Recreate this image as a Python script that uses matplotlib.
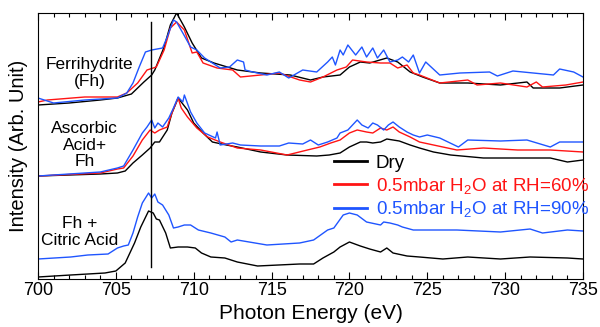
import matplotlib
matplotlib.use("Agg")
import matplotlib.pyplot as plt

plt.rcParams['font.family'] = ['Liberation Sans', 'DejaVu Sans']
plt.rcParams['mathtext.fontset'] = 'custom'
plt.rcParams['mathtext.rm'] = 'Liberation Sans'
plt.rcParams['mathtext.it'] = 'Liberation Sans'

# Stacked Fe L-edge spectra, offsets already included in the intensities
# --- Ferrihydrite (top) ---
fh_dry_e = [700.0, 702.0, 704.0, 705.1, 706.0, 706.8, 707.3, 707.5, 708.1, 708.5, 708.9, 709.4,
            709.9, 710.5, 711.3, 712.8, 714.3, 716.2, 717.5, 718.3, 719.4, 720.0, 720.7, 721.3,
            722.4, 723.1, 723.9, 724.7, 725.8, 727.6, 729.7, 731.4, 731.8, 733.5, 735.0]
fh_dry_i = [174, 176, 179, 181, 185, 197, 204, 209, 232, 254, 266, 252,
            236, 221, 216, 209, 206, 204, 199, 202, 204, 212, 217, 216,
            221, 217, 207, 202, 196, 196, 194, 197, 191, 191, 194]

fh_rh60_e = [700.0, 700.6, 703.0, 705.1, 705.7, 706.4, 707.0, 707.6, 708.1, 708.5, 708.9, 709.4,
             709.9, 710.2, 710.6, 711.5, 712.5, 713.0, 714.3, 715.5, 716.8, 717.5, 718.3, 719.2,
             719.8, 720.2, 721.1, 722.0, 722.6, 723.1, 723.7, 724.1, 724.5, 725.8, 727.6, 728.2,
             729.7, 731.4, 732.0, 732.4, 733.9, 735.0]
fh_rh60_i = [177, 179, 182, 182, 186, 196, 209, 212, 229, 251, 257, 249,
             226, 227, 216, 211, 209, 202, 204, 206, 199, 197, 202, 209,
             212, 219, 217, 216, 216, 211, 214, 206, 204, 196, 199, 194,
             196, 192, 197, 192, 194, 197]

fh_rh90_e = [700.0, 701.0, 703.0, 705.1, 705.7, 706.1, 706.5, 706.9, 707.3, 708.0, 708.3, 708.7,
             708.9, 709.3, 709.8, 710.2, 710.7, 711.2, 711.7, 712.3, 712.8, 713.2, 713.3, 713.8,
             714.7, 715.5, 716.1, 717.0, 717.9, 718.6, 718.9, 719.1, 719.4, 719.6, 719.9, 720.4,
             720.8, 721.1, 721.5, 721.8, 722.2, 722.6, 723.1, 723.4, 723.8, 724.1, 724.5, 724.9,
             725.8, 727.1, 729.0, 729.5, 730.5, 733.1, 733.5, 734.4, 735.0]
fh_rh90_i = [181, 176, 179, 181, 186, 196, 212, 227, 229, 231, 242, 259,
             257, 246, 232, 229, 221, 216, 211, 212, 219, 217, 209, 207,
             204, 207, 201, 209, 207, 217, 222, 214, 229, 224, 234, 224,
             232, 222, 231, 221, 229, 217, 219, 222, 217, 224, 206, 217,
             204, 206, 207, 203, 208, 204, 210, 207, 202]

# --- Ascorbic acid + Fh (middle) ---
aa_dry_e = [700.0, 704.0, 705.1, 705.6, 706.1, 706.7, 707.2, 707.5, 707.8, 708.3, 708.6, 709.0,
            709.6, 710.0, 710.6, 711.2, 712.1, 712.8, 714.3, 716.0, 717.9, 718.7, 719.4, 720.0,
            720.7, 721.1, 721.5, 722.0, 722.4, 723.2, 723.9, 724.5, 725.4, 726.5, 728.6, 730.8,
            732.9, 734.0, 735.0]
aa_dry_i = [103, 105, 106, 108, 116, 124, 131, 137, 137, 149, 166, 181,
            169, 156, 146, 137, 134, 132, 127, 124, 123, 124, 126, 132,
            137, 137, 136, 137, 140, 138, 134, 131, 127, 124, 121, 121,
            121, 117, 119]

aa_rh60_e = [700.0, 704.0, 705.1, 705.5, 706.1, 706.7, 707.2, 707.5, 707.8, 708.3, 708.6, 709.0,
             709.2, 709.6, 710.2, 710.9, 711.7, 712.8, 714.3, 716.0, 717.3, 718.1, 718.8, 719.4,
             720.0, 720.5, 721.1, 721.5, 722.0, 722.4, 722.8, 723.2, 723.9, 724.5, 725.4, 726.9,
             728.6, 730.8, 732.9, 735.0]
aa_rh60_i = [103, 106, 110, 111, 123, 139, 149, 146, 149, 152, 166, 181,
             171, 162, 151, 142, 137, 131, 129, 124, 129, 132, 136, 139,
             146, 149, 147, 146, 151, 149, 152, 147, 142, 137, 134, 129,
             131, 129, 129, 127]

aa_rh90_e = [700.0, 704.0, 705.1, 705.5, 706.1, 706.7, 707.0, 707.3, 707.5, 707.7, 708.0, 708.4,
             708.7, 709.0, 709.3, 709.4, 709.8, 710.2, 710.7, 711.4, 711.5, 711.7, 712.5, 713.0,
             714.3, 715.5, 716.1, 717.0, 717.5, 718.0, 718.6, 719.2, 719.4, 719.9, 720.2, 720.5,
             720.8, 721.2, 721.5, 721.8, 722.2, 722.5, 722.8, 723.2, 723.7, 724.1, 724.5, 725.0,
             725.8, 727.0, 727.6, 729.7, 731.4, 732.9, 733.5, 735.0]
aa_rh90_i = [103, 107, 111, 113, 129, 146, 152, 159, 151, 156, 152, 161,
             171, 182, 177, 184, 167, 156, 146, 141, 147, 134, 136, 134,
             133, 133, 136, 135, 139, 134, 137, 141, 146, 149, 154, 159,
             154, 151, 156, 154, 149, 154, 157, 152, 147, 144, 142, 144,
             141, 132, 139, 138, 139, 132, 137, 137]

# --- Fh + citric acid (bottom) ---
ca_dry_e = [700.0, 702.1, 704.3, 705.0, 705.6, 706.2, 706.6, 707.1, 707.4, 707.6, 707.8, 708.2,
            708.5, 709.0, 709.6, 710.1, 710.5, 711.1, 712.0, 712.8, 714.1, 716.8, 717.7, 718.3,
            719.0, 719.4, 720.0, 720.7, 721.3, 722.0, 722.4, 722.8, 723.7, 724.5, 726.0, 727.6,
            729.7, 731.6, 734.0, 735.0]
ca_dry_i = [2, 4, 6, 8, 16, 36, 52, 68, 66, 60, 59, 46,
            31, 32, 32, 31, 26, 22, 21, 17, 13, 15, 15, 21,
            27, 32, 37, 33, 30, 27, 31, 26, 23, 22, 20, 22,
            20, 22, 21, 20]

ca_rh90_e = [700.0, 702.1, 703.2, 704.5, 705.1, 705.5, 705.8, 706.1, 706.4, 706.7, 707.1, 707.3,
             707.5, 707.7, 708.0, 708.4, 708.7, 709.0, 709.4, 709.8, 710.3, 711.1, 712.0, 712.4,
             712.8, 714.7, 716.8, 717.7, 718.6, 719.0, 719.6, 720.0, 720.5, 721.1, 722.0, 722.2,
             722.6, 723.1, 723.4, 724.1, 725.4, 726.9, 729.7, 731.6, 732.4, 734.0, 735.0]
ca_rh90_i = [20, 22, 24, 25, 31, 33, 34, 46, 62, 76, 86, 81,
             85, 77, 74, 64, 51, 52, 54, 54, 49, 46, 42, 37,
             39, 34, 36, 39, 49, 51, 64, 66, 64, 57, 54, 57,
             56, 54, 52, 49, 49, 49, 47, 50, 46, 49, 48]

edge_energy = 707.24
edge_span = (12, 257)

sample_labels = ["Ferrihydrite\n(Fh)", "Ascorbic\nAcid+\nFh", "Fh +\nCitric Acid"]
sample_label_pos = [(703.3, 206), (703.0, 134), (702.7, 47)]

BLACK = 'black'
RED = '#ff1414'
BLUE = '#1f55ff'


def main():
    fig = plt.figure(figsize=(6.0, 3.27), dpi=100)
    ax = fig.add_axes([38 / 600, 48 / 327, 545 / 600, 266 / 327])

    lw = 1.0
    ax.plot(fh_dry_e, fh_dry_i, color=BLACK, lw=lw, label='Dry')
    ax.plot(fh_rh60_e, fh_rh60_i, color=RED, lw=lw, label='0.5mbar H$_2$O at RH=60%')
    ax.plot(fh_rh90_e, fh_rh90_i, color=BLUE, lw=lw, label='0.5mbar H$_2$O at RH=90%')

    ax.plot(aa_dry_e, aa_dry_i, color=BLACK, lw=lw)
    ax.plot(aa_rh60_e, aa_rh60_i, color=RED, lw=lw)
    ax.plot(aa_rh90_e, aa_rh90_i, color=BLUE, lw=lw)

    ax.plot(ca_dry_e, ca_dry_i, color=BLACK, lw=lw)
    ax.plot(ca_rh90_e, ca_rh90_i, color=BLUE, lw=lw)

    # Fe(III) L3 edge marker
    ax.plot([edge_energy, edge_energy], edge_span, color='black', lw=1.0)

    for txt, (x, y) in zip(sample_labels, sample_label_pos):
        ax.text(x, y, txt, ha='center', va='center', fontsize=12.5, linespacing=1.1)

    ax.set_xlim(700, 735)
    ax.set_ylim(0, 266)
    ax.set_xticks(range(700, 736, 5))
    ax.set_xticks(range(700, 736), minor=True)
    ax.set_yticks([])
    ax.tick_params(axis='x', which='both', direction='in', top=True, labelsize=13, pad=2)
    ax.tick_params(axis='x', which='major', length=5, width=0.8)
    ax.tick_params(axis='x', which='minor', length=3, width=0.8)
    for s in ax.spines.values():
        s.set_linewidth(0.8)

    ax.set_xlabel('Photon Energy (eV)', fontsize=15, labelpad=4)
    ax.set_ylabel('Intensity (Arb. Unit)', fontsize=14.5, labelpad=7)

    leg = ax.legend(loc='upper left', bbox_to_anchor=(0.53, 0.495), frameon=False, fontsize=13.5,
                    handlelength=1.75, handletextpad=0.45, labelspacing=0.2, borderaxespad=0,
                    labelcolor='linecolor')
    for line in leg.get_lines():
        line.set_linewidth(2.0)

    plt.savefig('out.png', dpi=100)


if __name__ == '__main__':
    main()
